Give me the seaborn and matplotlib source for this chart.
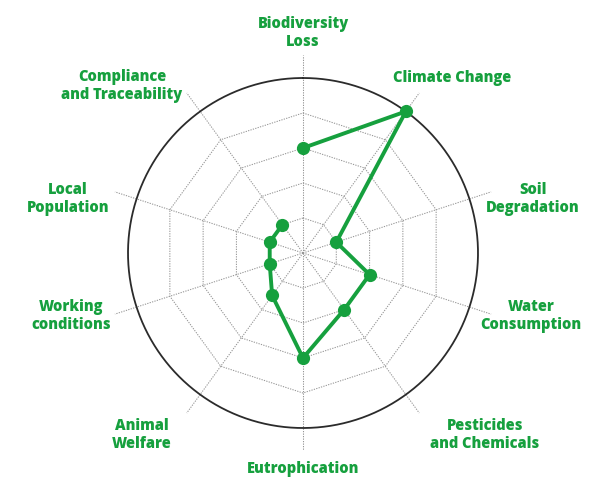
import numpy as np
import pandas as pd
import matplotlib
matplotlib.use("Agg")
import matplotlib.pyplot as plt
import seaborn as sns

categories = ["Biodiversity\nLoss", "Climate Change", "Soil\nDegradation",
              "Water\nConsumption", "Pesticides\nand Chemicals", "Eutrophication",
              "Animal\nWelfare", "Working\nconditions", "Local\nPopulation",
              "Compliance\nand Traceability"]
values = [3, 5, 1, 2, 2, 3, 1.5, 1, 1, 1]
grid_levels = [1, 2, 3, 4]
max_level = 5

GREEN = "#16a03e"
GRID = "#959595"

sns.set_theme(style="white")
plt.rcParams['font.family'] = ['Open Sans', 'DejaVu Sans']

fig = plt.figure(figsize=(6.1, 4.9), dpi=100)
W, H = 610, 490
cx, cy = 303, 490 - 253
R = 198
ax = fig.add_axes([(cx - R) / W, (cy - R) / H, 2 * R / W, 2 * R / H], projection='polar')
ax.set_theta_zero_location('N')
ax.set_theta_direction(-1)
rmax = max_level * R / 175
ax.set_ylim(0, rmax)
ax.grid(False)
ax.spines['polar'].set_visible(False)
ax.set_xticks([])
ax.set_yticks([])
ax.set_facecolor('white')

n = len(categories)
angles = np.arange(n) * 2 * np.pi / n

# spokes
for a in angles:
    ax.plot([a, a], [0, rmax], color=GRID, lw=0.75, ls=(0, (1.2, 1.2)), zorder=1)
# polygon grid
closed = np.append(angles, angles[0])
for lv in grid_levels:
    ax.plot(closed, [lv] * (n + 1), color=GRID, lw=0.75, ls=(0, (1.2, 1.2)), zorder=1)
# outer circle
tt = np.linspace(0, 2 * np.pi, 500)
ax.plot(tt, [max_level] * len(tt), color='#2b2b2b', lw=1.3, zorder=2)

df = pd.DataFrame({"theta": np.append(angles, angles[0]),
                   "value": values + [values[0]]})
sns.lineplot(data=df, x="theta", y="value", sort=False, ax=ax, color=GREEN,
             lw=2.8, marker='o', markersize=9.5, markeredgewidth=0, zorder=5)
ax.set_xlabel("")
ax.set_ylabel("")

# label placement (pixel centers relative to chart center)
label_pos = [(0, 220), (149, 175), (230, 54), (228, -63), (182, -182),
             (0, -216), (-161, -182), (-232, -63), (-235, 54), (-181, 167)]
for lab, (dx, dy) in zip(categories, label_pos):
    th = np.arctan2(dx, dy)
    r = np.hypot(dx, dy) / 175 * max_level
    ax.text(th, r, lab, ha='center', va='center', multialignment='center',
            color=GREEN, fontsize=10.5, fontweight='heavy', linespacing=1.12,
            clip_on=False)

fig.savefig("out.png", dpi=100, facecolor='white')
